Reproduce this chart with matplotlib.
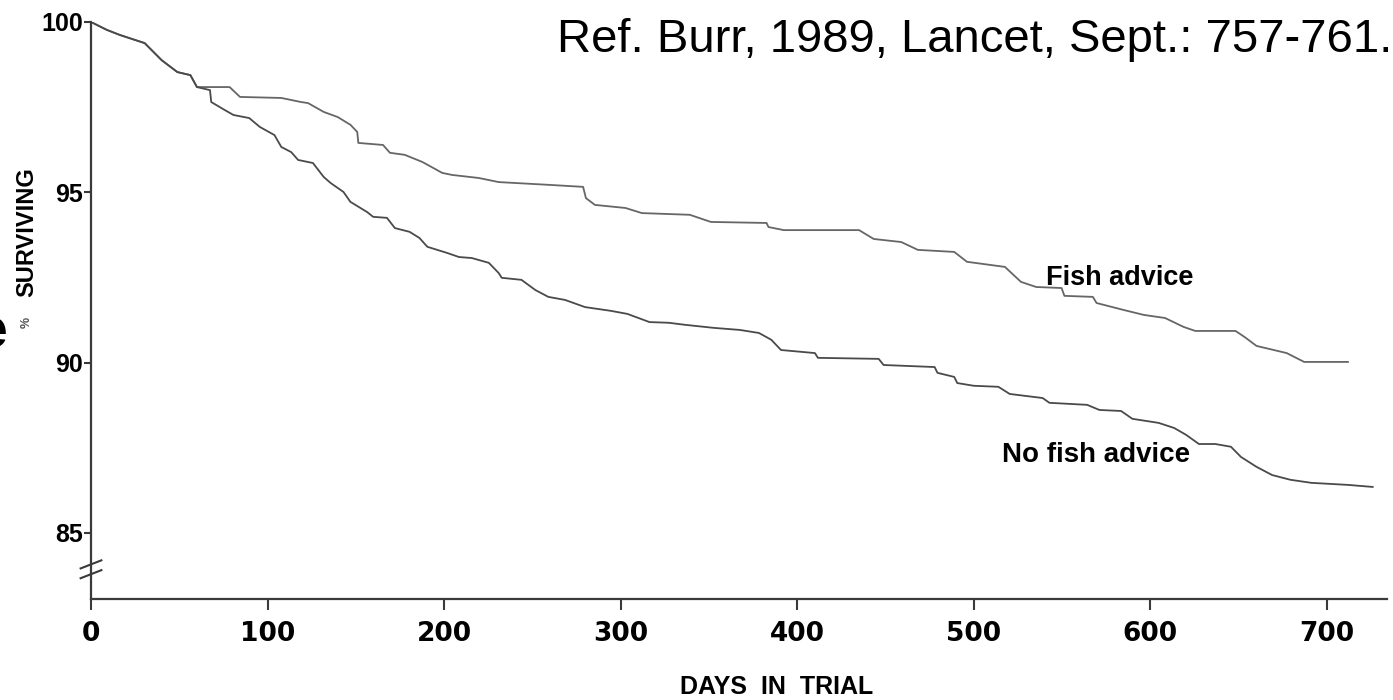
import numpy as np
import matplotlib.pyplot as plt

# survival curves (days, % surviving)
fish_days = [0, 8.9, 16.3, 30.4, 40.0, 48.9, 56.3, 60.0, 78.5, 84.4, 107.8, 119.0,
             122.9, 131.8, 139.7, 147.0, 150.8, 151.4, 165.4, 169.3, 177.7, 187.7,
             198.9, 204.5, 219.7, 230.9, 259.0, 278.7, 280.3, 285.4, 302.7, 312.0,
             339.1, 351.1, 382.6, 383.7, 392.4, 435.0, 443.3, 458.9, 468.3, 488.9,
             496.1, 517.6, 526.7, 535.3, 549.7, 551.3, 567.4, 569.5, 584.5, 596.3,
             608.3, 618.7, 625.4, 648.2, 653.4, 660.1, 677.2, 687.1, 711.9]
fish_surv = [100.0, 99.77, 99.62, 99.38, 98.88, 98.53, 98.44, 98.09, 98.09, 97.80,
             97.77, 97.65, 97.62, 97.36, 97.21, 96.98, 96.77, 96.45, 96.39, 96.16,
             96.10, 95.89, 95.57, 95.51, 95.42, 95.30, 95.22, 95.16, 94.83, 94.63,
             94.54, 94.39, 94.34, 94.13, 94.10, 93.98, 93.89, 93.89, 93.63, 93.54,
             93.31, 93.25, 92.96, 92.81, 92.37, 92.22, 92.19, 91.96, 91.93, 91.75,
             91.55, 91.40, 91.31, 91.05, 90.93, 90.93, 90.75, 90.49, 90.28, 90.02,
             90.02]

nofish_days = [0, 8.9, 16.3, 30.4, 40.0, 48.9, 56.3, 60.0, 67.4, 68.1, 75.6, 80.7,
               89.6, 95.6, 103.9, 107.8, 113.4, 117.3, 125.7, 131.8, 135.8, 143.0,
               146.9, 156.4, 159.8, 167.6, 172.1, 180.4, 186.0, 190.5, 201.7, 208.4,
               215.7, 225.3, 230.9, 232.6, 243.8, 251.7, 259.0, 268.5, 279.8, 294.4,
               303.8, 316.3, 327.2, 336.4, 352.7, 367.4, 378.3, 385.3, 390.8, 410.0,
               411.7, 446.1, 448.9, 477.8, 479.4, 488.9, 490.6, 500.0, 513.9, 520.3,
               539.0, 542.8, 564.2, 571.1, 583.4, 589.8, 604.7, 613.5, 620.2, 627.5,
               636.8, 645.6, 651.3, 660.1, 668.9, 679.3, 691.2, 711.9, 725.9]
nofish_surv = [100.0, 99.77, 99.62, 99.38, 98.88, 98.53, 98.44, 98.09, 98.00, 97.65,
               97.42, 97.27, 97.18, 96.92, 96.68, 96.33, 96.18, 95.95, 95.86, 95.45,
               95.27, 95.01, 94.72, 94.42, 94.28, 94.25, 93.95, 93.84, 93.66, 93.40,
               93.22, 93.10, 93.07, 92.93, 92.63, 92.49, 92.43, 92.13, 91.93, 91.84,
               91.63, 91.52, 91.43, 91.19, 91.17, 91.11, 91.02, 90.96, 90.87, 90.67,
               90.37, 90.28, 90.14, 90.11, 89.93, 89.87, 89.70, 89.58, 89.40, 89.32,
               89.29, 89.08, 88.96, 88.82, 88.76, 88.61, 88.58, 88.35, 88.23, 88.08,
               87.88, 87.61, 87.61, 87.53, 87.23, 86.94, 86.70, 86.56, 86.47, 86.41,
               86.35]

x_ticks = [0, 100, 200, 300, 400, 500, 600, 700]
y_ticks = [85, 90, 95, 100]

ink = '#3a3a3a'

fig = plt.figure(figsize=(13.93, 7), dpi=100)
ax = fig.add_axes([91/1393, 101/700, 1296/1393, 577/700])

ax.plot(fish_days, fish_surv, color='#666666', lw=1.3)
ax.plot(nofish_days, nofish_surv, color='#4a4a4a', lw=1.3)

ax.set_xlim(0, 734)
ax.set_ylim(83.06, 100)
ax.set_xticks(x_ticks)
ax.set_yticks(y_ticks)

for s in ['top', 'right']:
    ax.spines[s].set_visible(False)
for s in ['left', 'bottom']:
    ax.spines[s].set_color(ink)
    ax.spines[s].set_linewidth(1.6)

ax.tick_params(axis='x', length=8, width=1.5, pad=8, color=ink)
ax.tick_params(axis='y', length=5, width=1.5, pad=1, color=ink)
for lab in ax.get_xticklabels():
    lab.set_fontfamily('DejaVu Sans')
    lab.set_fontweight('bold')
    lab.set_fontsize(19)
for lab in ax.get_yticklabels():
    lab.set_fontfamily('Liberation Sans')
    lab.set_fontweight('bold')
    lab.set_fontsize(18)

# axis break marks
for yb in (0.043, 0.060):
    ax.plot([-0.008, 0.008], [yb - 0.007, yb + 0.007], transform=ax.transAxes,
            color=ink, lw=1.5, clip_on=False)

ax.text(541, 92.49, 'Fish advice', fontsize=19.5, fontweight='bold',
        family='Liberation Sans', va='center', ha='left')
ax.text(516, 87.29, 'No fish advice', fontsize=20, fontweight='bold',
        family='Liberation Sans', va='center', ha='left')

fig.text(777/1393, 1 - 687/700, 'DAYS  IN  TRIAL', fontsize=18, fontweight='bold',
         family='Liberation Sans', ha='center', va='center')
fig.text(27/1393, 1 - 232/700, 'SURVIVING', fontsize=17, fontweight='bold',
         family='Liberation Sans', rotation=90, ha='center', va='center')
fig.text(27/1393, 1 - 322/700, '%', fontsize=9, fontweight='bold',
         family='Liberation Sans', rotation=90, ha='center', va='center', color='#555555')

fig.text(1392/1393, 1 - 52/700, 'Ref. Burr, 1989, Lancet, Sept.: 757-761.',
         fontsize=34, family='Liberation Sans', ha='right', va='baseline')

# clipped letter from the slide at the far left edge
fig.text(8/1393, 1 - 348/700, 'e', fontsize=40, fontweight='bold',
         family='Liberation Sans', ha='right', va='baseline')

fig.savefig('out.png', dpi=100)
